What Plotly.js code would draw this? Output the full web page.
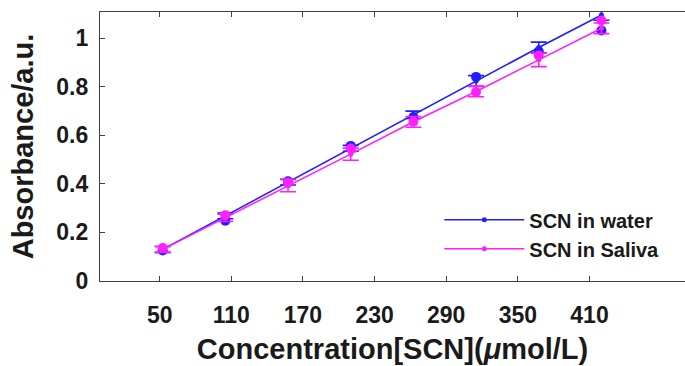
<!DOCTYPE html>
<html>
<head>
<meta charset="utf-8">
<script src="https://cdn.plot.ly/plotly-3.0.1.min.js"></script>
<style>html,body{margin:0;padding:0;background:#fff;}#chart{width:685px;height:366px;}</style>
</head>
<body>
<div id="chart"></div>
<script>
// Concentration positions of the measurements
const conc = [52.5, 105, 157.5, 210, 262.5, 315, 367.5, 420];
// Fitted (calibration) line values
const waterFit = [0.130, 0.268, 0.407, 0.546, 0.684, 0.823, 0.961, 1.095];
const salivaFit = [0.130, 0.260, 0.392, 0.522, 0.655, 0.780, 0.910, 1.040];
// Error bar half-widths
const waterErr = [0.012, 0.012, 0.012, 0.012, 0.015, 0.022, 0.022, 0.022];
const salivaErr = [0.012, 0.015, 0.025, 0.025, 0.022, 0.022, 0.028, 0.022];
// Measured points
const waterMeas = [0.126, 0.248, 0.410, 0.556, 0.675, 0.840, 0.945, 1.031];
const salivaMeas = [0.136, 0.271, 0.405, 0.545, 0.656, 0.778, 0.928, 1.072];
// Axis ticks
const xTicks = [50, 110, 170, 230, 290, 350, 410];
const yTicks = [0, 0.2, 0.4, 0.6, 0.8, 1];

const blue = '#1f1fff';
const mag = '#ff1fff';

const traces = [
  {x: conc, y: waterFit, mode: 'lines+markers', name: 'SCN in water',
   line: {color: blue, width: 1.6}, marker: {color: blue, size: 5},
   error_y: {type: 'data', array: waterErr, visible: true, color: blue, thickness: 1.6, width: 8}},
  {x: conc, y: waterMeas, mode: 'markers', showlegend: false,
   marker: {color: blue, size: 10}},
  {x: conc, y: salivaFit, mode: 'lines+markers', name: 'SCN in Saliva',
   line: {color: mag, width: 1.6}, marker: {color: mag, size: 5},
   error_y: {type: 'data', array: salivaErr, visible: true, color: mag, thickness: 1.6, width: 8}},
  {x: conc, y: salivaMeas, mode: 'markers', showlegend: false,
   marker: {color: mag, size: 10}}
];

const FAM = 'Liberation Sans, Arial, sans-serif';
const axisFont = {family: FAM, size: 23, color: '#1a1a1a', weight: 'bold'};
const layout = {
  width: 685, height: 366,
  margin: {l: 100, r: 0, t: 12, b: 85},
  paper_bgcolor: '#fff', plot_bgcolor: '#fff',
  showlegend: true,
  legend: {x: 0.58, y: 0.30, xanchor: 'left', yanchor: 'top', bgcolor: 'rgba(0,0,0,0)',
    itemwidth: 80, tracegroupgap: 0,
    font: {family: FAM, size: 20, color: '#1a1a1a', weight: 'bold'}},
  xaxis: {range: [0, 490], tickvals: xTicks, ticktext: xTicks.map(String),
    ticks: 'inside', ticklen: 5, tickcolor: '#404040', showline: true, linecolor: '#404040', linewidth: 1.2,
    mirror: 'ticks', showgrid: false, zeroline: false, tickfont: axisFont, ticklabelstandoff: 13,
    title: {text: 'Concentration[SCN](<i>μ</i>mol/L)', standoff: 12,
      font: {family: FAM, size: 29, color: '#1a1a1a', weight: 'bold'}}},
  yaxis: {range: [0, 1.107], tickvals: yTicks,
    ticks: 'inside', ticklen: 5, tickcolor: '#404040', showline: true, linecolor: '#404040', linewidth: 1.2,
    showgrid: false, zeroline: false, tickfont: axisFont, ticklabelstandoff: 6,
    title: {text: 'Absorbance/a.u.', standoff: 14,
      font: {family: FAM, size: 29, color: '#1a1a1a', weight: 'bold'}}}
};

Plotly.newPlot('chart', traces, layout, {displayModeBar: false, staticPlot: true});
</script>
</body>
</html>
